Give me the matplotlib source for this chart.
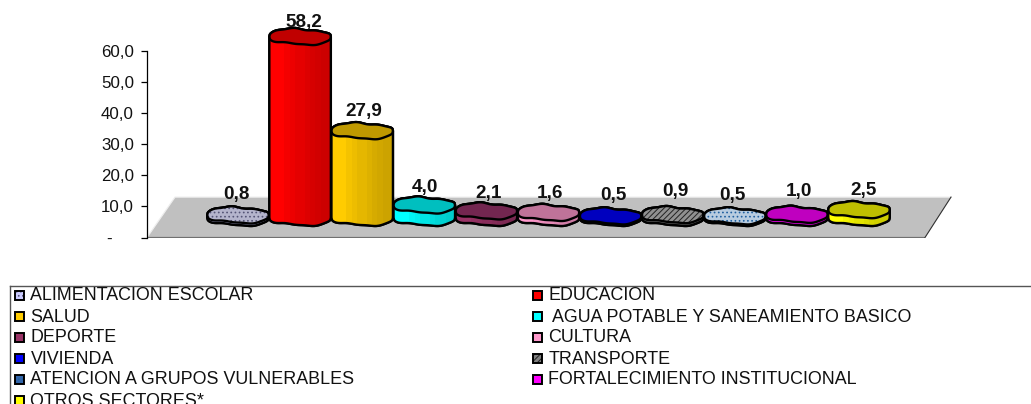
import numpy as np
import matplotlib
matplotlib.use("Agg")
import matplotlib.pyplot as plt
from matplotlib.patches import Polygon, Rectangle
from matplotlib.colors import to_rgb
from matplotlib.transforms import ScaledTranslation

plt.rcParams['font.family'] = ['Liberation Sans', 'DejaVu Sans']
plt.rcParams['hatch.linewidth'] = 0.7

categories = ["ALIMENTACION ESCOLAR", "EDUCACION", "SALUD", " AGUA POTABLE Y SANEAMIENTO BASICO",
              "DEPORTE", "CULTURA", "VIVIENDA", "TRANSPORTE",
              "ATENCION A GRUPOS VULNERABLES", "FORTALECIMIENTO INSTITUCIONAL", "OTROS SECTORES*"]
values = [0.8, 58.2, 27.9, 4.0, 2.1, 1.6, 0.5, 0.9, 0.5, 1.0, 2.5]
value_labels = ["0,8", "58,2", "27,9", "4,0", "2,1", "1,6", "0,5", "0,9", "0,5", "1,0", "2,5"]
side_colors = ["#CCCCFF", "#FF0000", "#FFCC00", "#00FFFF", "#993366", "#FF99CC",
               "#0000FF", "#808080", "#3366AA", "#FF00FF", "#FFFF00"]
top_colors = ["#B4B4CC", "#C00000", "#BF9900", "#00BFBF", "#732650", "#BF7399",
              "#0000BF", "#909090", "#B8CCE0", "#BF00BF", "#BFBF00"]
hatch_styles = ["....", None, None, None, None, None, None, "//////", "....", None, None]
hatch_colors = ["#555577", None, None, None, None, None, None, "#222222", "#2060A0", None, None]
label_lift = [6.5, 4.5, 6.2, 5.6, 5.8, 6.3, 6.5, 7.5, 6.5, 7.5, 6.1]
label_shift = [-0.02, 0.06, 0.03, 0.01, 0.03, 0.02, 0.04, 0.05, -0.03, 0.03, 0.07]
y_ticks = [0, 10, 20, 30, 40, 50, 60]
y_tick_labels = ["-", "10,0", "20,0", "30,0", "40,0", "50,0", "60,0"]

W, H = 1031, 404
fig = plt.figure(figsize=(W / 100, H / 100), dpi=100, facecolor="white")

PX_X = 62.1
PX_Y = 3.108
X0 = 238.0
Y0 = 237.5
AX_L, AX_R = 147.0, 960.0
ax = fig.add_axes([AX_L / W, (H - Y0) / H, (AX_R - AX_L) / W, Y0 / H])
ax.set_xlim((AX_L - X0) / PX_X, (AX_R - X0) / PX_X)
ax.set_ylim(0, Y0 / PX_Y)
ax.patch.set_alpha(0)
for s in ("top", "right", "bottom"):
    ax.spines[s].set_visible(False)
ax.spines["left"].set_bounds(0, 60)
ax.spines["left"].set_linewidth(0.9)
ax.set_xticks([])
ax.set_yticks(y_ticks)
ax.set_yticklabels(y_tick_labels, fontsize=12.2, color="#111111")
ax.tick_params(axis="y", length=4.5, width=0.9, pad=5)
dash = ax.get_yticklabels()[0]
dash.set_transform(dash.get_transform() + ScaledTranslation(-22 / 100, 0, fig.dpi_scale_trans))


def px(xp):
    return (xp - X0) / PX_X


# floor of the 3D chart
floor_top = 13.0
floor = [(px(147), 0.0), (px(925), 0.0), (px(951), floor_top), (px(175), floor_top)]
ax.add_patch(Polygon(floor, closed=True, facecolor="#C0C0C0", edgecolor="none", zorder=1))
ax.plot([px(147), px(175), px(951)], [0.0, floor_top, floor_top], color="#EEEEEE", lw=0.9, zorder=1.1)
ax.plot([px(147), px(925)], [0.0, 0.0], color="#707070", lw=1.6, zorder=1.1, solid_capstyle="butt")
ax.plot([px(925), px(951)], [0.0, floor_top], color="#303030", lw=0.8, zorder=1.1)

BASE = 6.4
HALF_W = 0.495
HALF_H = 2.45
u = np.linspace(0, 1, 121)


def edges(cx, cy):
    """Upper and lower wavy edges of a bar's cross-section."""
    xs = cx - HALF_W + 2 * HALF_W * u
    bulge = HALF_H * np.clip(1 - (2 * u - 1) ** 2, 0, 1) ** 0.36
    wave = 0.17 * HALF_H * np.sin(2 * np.pi * (u - 0.02)) * np.sin(np.pi * u) ** 0.5
    wave2 = 0.10 * HALF_H * np.sin(6 * np.pi * u)
    up = cy + bulge + wave + wave2 * 0.6
    low = cy - bulge + wave - wave2 * 0.4
    return xs, up, low


for i, (v, side, top, hs, hc) in enumerate(zip(values, side_colors, top_colors, hatch_styles, hatch_colors)):
    z = 2 + i * 0.01
    xs, up_b, low_b = edges(i, BASE)
    xs, up_t, low_t = edges(i, BASE + v)
    body = np.vstack([np.column_stack([xs, low_b]), np.column_stack([xs[::-1], up_t[::-1]])])
    poly = Polygon(body, closed=True, facecolor=side, edgecolor="black", lw=1.7, zorder=z, joinstyle="round")
    ax.add_patch(poly)
    # shaded bands on the cylinder side
    rgb = np.array(to_rgb(side))
    levels = np.array([1.0, 1.0, 1.0, 0.96, 0.93, 0.90, 0.90, 0.87, 0.84, 0.82, 0.80, 0.80])
    grad = np.clip(rgb[None, None, :] * levels[None, :, None], 0, 1)
    im = ax.imshow(grad, extent=(i - HALF_W, i + HALF_W, BASE - HALF_H - 1, BASE + v + HALF_H),
                   aspect="auto", interpolation="nearest", zorder=z + 0.001)
    clip_poly = Polygon(body, closed=True, transform=ax.transData)
    im.set_clip_path(clip_poly)
    ax.add_patch(Polygon(body, closed=True, facecolor="none", edgecolor="black", lw=1.7,
                         zorder=z + 0.002, joinstyle="round"))
    cap = np.vstack([np.column_stack([xs, up_t]), np.column_stack([xs[::-1], low_t[::-1]])])
    ax.add_patch(Polygon(cap, closed=True, facecolor=top, edgecolor="none", zorder=z + 0.003))
    if hs:
        ax.add_patch(Polygon(cap, closed=True, facecolor="none", edgecolor=hc, hatch=hs, lw=0, zorder=z + 0.004))
    ax.add_patch(Polygon(cap, closed=True, facecolor="none", edgecolor="black", lw=1.7,
                         zorder=z + 0.005, joinstyle="round"))
    ax.text(i + label_shift[i], BASE + v + label_lift[i], value_labels[i], ha="center", va="center",
            fontsize=13.6, fontweight="bold", color="#111111", zorder=5)

ax.set_xlim((AX_L - X0) / PX_X, (AX_R - X0) / PX_X)
ax.set_ylim(0, Y0 / PX_Y)

# legend, laid out as in the reference and running off the figure edge
lg = fig.add_axes([0, 0, 1, 1])
lg.set_xlim(0, W)
lg.set_ylim(H, 0)
lg.axis("off")
lg.patch.set_alpha(0)
lg.plot([9.5, W], [286, 286], color="#555555", lw=1.0)
lg.plot([9.5, 9.5], [286, H], color="#555555", lw=1.0)
col_x = [15, 533]
row_y0, row_dy = 295, 21
for k, name in enumerate(categories):
    c = k % 2
    r = k // 2
    y = row_y0 + r * row_dy
    lg.add_patch(Rectangle((col_x[c], y - 4), 9, 8.5, facecolor=side_colors[k], edgecolor="none"))
    if hatch_styles[k]:
        lg.add_patch(Rectangle((col_x[c], y - 4), 9, 8.5, facecolor="none", edgecolor=hatch_colors[k],
                               hatch=hatch_styles[k], lw=0))
    lg.add_patch(Rectangle((col_x[c], y - 4), 9, 8.5, facecolor="none", edgecolor="black", lw=1.4))
    lg.text(col_x[c] + 15.5, y + 1, name, ha="left", va="center", fontsize=12.9, color="#111111")

fig.savefig("out.png", dpi=100, facecolor="white")
